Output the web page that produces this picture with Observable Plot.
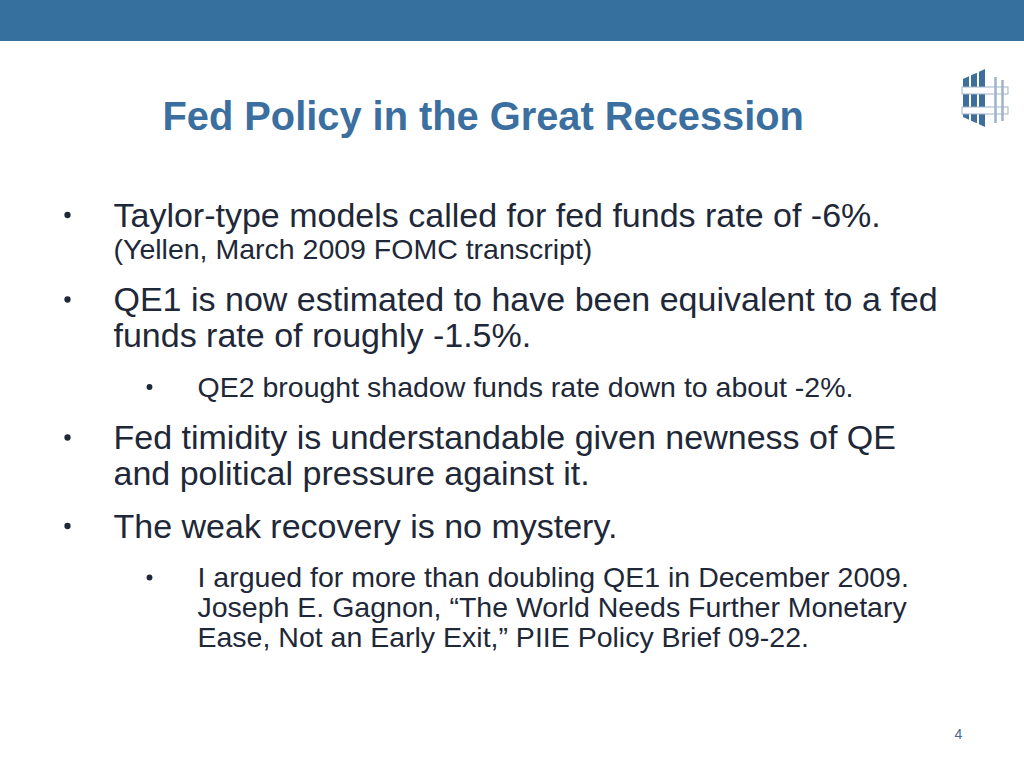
<!DOCTYPE html>
<html>
<head>
<meta charset="utf-8">
<script src="https://cdn.jsdelivr.net/npm/d3@7"></script>
<script src="https://cdn.jsdelivr.net/npm/@observablehq/plot@0.6"></script>
<style>
  html, body { margin: 0; padding: 0; background: #ffffff; }
  #slide svg { display: block; }
</style>
</head>
<body>
<div id="slide"></div>
<script>
// ---- content ----
const slideTitle = "Fed Policy in the Great Recession";
const lineTexts = [
  "Taylor-type models called for fed funds rate of -6%.",
  "(Yellen, March 2009 FOMC transcript)",
  "QE1 is now estimated to have been equivalent to a fed",
  "funds rate of roughly -1.5%.",
  "QE2 brought shadow funds rate down to about -2%.",
  "Fed timidity is understandable given newness of QE",
  "and political pressure against it.",
  "The weak recovery is no mystery.",
  "I argued for more than doubling QE1 in December 2009.",
  "Joseph E. Gagnon, \u201CThe World Needs Further Monetary",
  "Ease, Not an Early Exit,\u201D PIIE Policy Brief 09-22."
];
const lineLevels = ["main", "note", "main", "main", "sub", "main", "main", "main", "sub", "sub", "sub"];
const lineStarts = [true, false, true, false, true, true, false, true, true, false, false];
const pageNumber = "4";

// ---- slide layout (styles) ----
const W = 1024, H = 768;
const FONT = "'Liberation Sans', Arial, Helvetica, sans-serif";
const style = {
  main: {size: 34, lead: 36, before: 16.5, indent: 113, bullet: 67, r: 4, lift: 11.5},
  note: {size: 28.5, lead: 32, before: 0, indent: 113},
  sub:  {size: 28.5, lead: 30, before: 19.5, indent: 197, bullet: 149, r: 3.5, lift: 9.5}
};
const firstBaseline = 226;

let yCur = firstBaseline;
const lines = lineTexts.map((text, i) => {
  const lv = lineLevels[i], st = style[lv];
  if (i > 0) yCur += st.lead + (lineStarts[i] ? st.before : 0);
  return {text, level: lv, start: lineStarts[i], x: st.indent, y: yCur, size: st.size};
});
const bullets = lines.filter(d => d.start && style[d.level].bullet != null)
  .map(d => ({x: style[d.level].bullet, y: d.y - style[d.level].lift, r: style[d.level].r}));

// logo geometry (decorative)
const logoCols = [];
[[963, 969], [971, 977], [979, 985]].forEach(([a, b], c) => {
  for (const x of [a, b]) {
    const t = (x - 963) / 22;
    logoCols.push({c, x, top: 79 - 10 * t, bottom: 117 + 10 * t});
  }
});
const logoBars = [{x1: 962, x2: 1008, y1: 87, y2: 94}, {x1: 962, x2: 1008, y1: 107, y2: 114}];
const logoPosts = [{x: 995, y1: 77, y2: 123}, {x: 1002, y1: 80, y2: 121}];

const chart = Plot.plot({
  width: W, height: H,
  margin: 0,
  style: {fontFamily: FONT, background: "#ffffff"},
  x: {domain: [0, W], range: [0, W], axis: null},
  y: {domain: [0, H], range: [0, H], axis: null},
  marks: [
    // top banner
    Plot.rect([{x1: 0, x2: W, y1: 0, y2: 41}], {x1: "x1", x2: "x2", y1: "y1", y2: "y2", fill: "#36709e"}),
    // title
    Plot.text([slideTitle], {x: 162, y: 129, text: d => d, textAnchor: "start", lineAnchor: "bottom",
      fontSize: 39.8, fontWeight: "bold", fill: "#3a6f9f", fontFamily: FONT}),
    // body lines
    Plot.text(lines, {x: "x", y: "y", text: "text", textAnchor: "start", lineAnchor: "bottom",
      fontSize: d => d.size, fill: "#1e2838", fontFamily: FONT}),
    Plot.dot(bullets, {x: "x", y: "y", r: "r", fill: "#1e2838", stroke: null}),
    // page number
    Plot.text([pageNumber], {x: 958, y: 738, text: d => d, textAnchor: "middle", lineAnchor: "bottom",
      fontSize: 14, fill: "#4a678c", fontFamily: FONT}),
    // logo
    Plot.areaY(logoCols, {x: "x", y1: "top", y2: "bottom", z: "c", fill: "#3e6e9c", curve: "linear"}),
    Plot.rect(logoBars, {x1: "x1", x2: "x2", y1: "y1", y2: "y2", fill: "#ffffff", stroke: "#9fb3c8", strokeWidth: 1}),
    Plot.ruleX(logoPosts, {x: "x", y1: "y1", y2: "y2", stroke: "#9fb3c8", strokeWidth: 2.5})
  ]
});
chart.setAttribute("font-family", FONT);
document.getElementById("slide").appendChild(chart);
</script>
</body>
</html>
